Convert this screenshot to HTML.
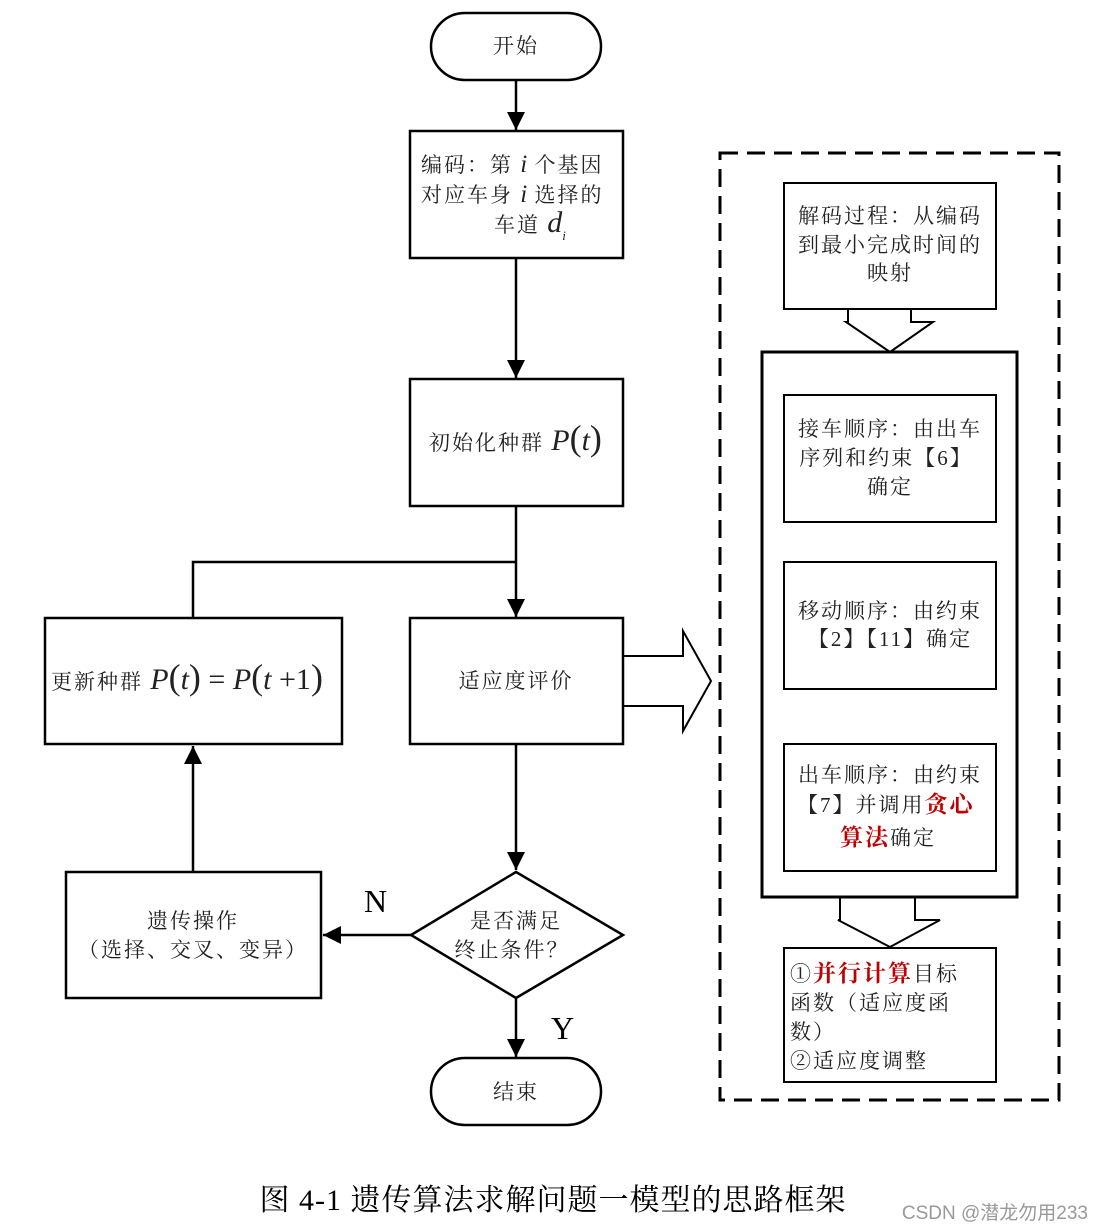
<!DOCTYPE html>
<html><head><meta charset="utf-8"><style>
html,body{margin:0;padding:0;background:#fff;width:1104px;height:1231px;overflow:hidden}
svg{display:block}
text{font-family:"Liberation Serif","Noto Serif CJK SC",serif;font-size:21px;fill:#222;letter-spacing:2px}
.m{font-family:"Liberation Serif",serif;font-style:italic;letter-spacing:0}
.r{fill:#c00000;font-weight:bold;font-size:23px}
</style></head><body>
<svg width="1104" height="1231" viewBox="0 0 1104 1231" xmlns="http://www.w3.org/2000/svg">
<defs>
<marker id="b" viewBox="0 0 10 10" markerWidth="20" markerHeight="18" refX="10" refY="5" orient="auto" markerUnits="userSpaceOnUse"><path d="M0,0 L10,5 L0,10 z" fill="#000"/></marker></defs>
<g fill="none" stroke="#000" stroke-width="2.5">
<rect x="431" y="13" width="170" height="67" rx="34"/>
<rect x="410" y="131" width="213" height="127"/>
<rect x="410" y="379" width="213" height="127"/>
<rect x="45" y="618" width="297" height="126"/>
<rect x="410" y="618" width="213" height="126"/>
<path d="M516,872 L623,935 L516,998 L411,935 Z"/>
<rect x="66" y="872" width="255" height="126"/>
<rect x="431" y="1058" width="170" height="67" rx="34"/>
<line x1="516" y1="80" x2="516" y2="130" marker-end="url(#b)"/>
<line x1="516" y1="258" x2="516" y2="378" marker-end="url(#b)"/>
<line x1="516" y1="506" x2="516" y2="617" marker-end="url(#b)"/>
<polyline points="193,618 193,562 516,562"/>
<line x1="516" y1="744" x2="516" y2="870" marker-end="url(#b)"/>
<line x1="411" y1="935" x2="323" y2="935" marker-end="url(#b)"/>
<line x1="193" y1="872" x2="193" y2="746" marker-end="url(#b)"/>
<line x1="516" y1="998" x2="516" y2="1057" marker-end="url(#b)"/>
<path d="M623,656 L683,656 L683,631 L711,681 L683,731 L683,706 L623,706" stroke-width="2"/>
<rect x="720" y="153" width="339" height="947" stroke-dasharray="18,9" stroke-width="3"/>
<rect x="784" y="183" width="212" height="126" stroke-width="2"/>
<path d="M848,309 L848,322 L846,322 L890,352 L933,322 L911,322 L911,309" stroke-width="2"/>
<rect x="762" y="352" width="255" height="545" stroke-width="3"/>
<rect x="784" y="395" width="212" height="127" stroke-width="2"/>
<rect x="784" y="562" width="212" height="127" stroke-width="2"/>
<rect x="784" y="744" width="212" height="127" stroke-width="2"/>
<path d="M840,897 L840,920 L838,920 L890,947 L940,920 L915,920 L915,897" stroke-width="2"/>
<rect x="784" y="948" width="212" height="134" stroke-width="2"/>
</g>
<text x="516" y="53" text-anchor="middle">开始</text>
<text x="421" y="172">编码：第 <tspan class="m" font-size="25">i</tspan> 个基因</text>
<text x="421" y="202">对应车身 <tspan class="m" font-size="25">i</tspan> 选择的</text>
<text x="494" y="232">车道 <tspan class="m" font-size="30">d</tspan><tspan class="m" font-size="13" dy="8">i</tspan></text>
<text x="429" y="450">初始化种群 <tspan class="m" font-size="30">P</tspan><tspan font-size="36" style="letter-spacing:0">(</tspan><tspan class="m" font-size="30">t</tspan><tspan font-size="36" style="letter-spacing:0">)</tspan></text>
<text x="51" y="689">更新种群 <tspan class="m" font-size="30">P</tspan><tspan font-size="36" style="letter-spacing:0">(</tspan><tspan class="m" font-size="30">t</tspan><tspan font-size="36" style="letter-spacing:0">)</tspan><tspan font-size="30" style="letter-spacing:0"> = </tspan><tspan class="m" font-size="30">P</tspan><tspan font-size="36" style="letter-spacing:0">(</tspan><tspan class="m" font-size="30">t</tspan><tspan font-size="30" style="letter-spacing:0"> +1</tspan><tspan font-size="36" style="letter-spacing:0">)</tspan></text>
<text x="516" y="688" text-anchor="middle">适应度评价</text>
<text x="516" y="928" text-anchor="middle">是否满足</text>
<text x="512" y="957" text-anchor="middle">终止条件？</text>
<text x="193" y="928" text-anchor="middle">遗传操作</text>
<text x="193" y="957" text-anchor="middle">（选择、交叉、变异）</text>
<text x="364" y="912" style="font-size:32px;fill:#000">N</text>
<text x="551" y="1039" style="font-size:32px;fill:#000">Y</text>
<text x="516" y="1099" text-anchor="middle">结束</text>
<text x="890" y="223" text-anchor="middle">解码过程：从编码</text>
<text x="890" y="252" text-anchor="middle">到最小完成时间的</text>
<text x="890" y="280" text-anchor="middle">映射</text>
<text x="890" y="436" text-anchor="middle">接车顺序：由出车</text>
<text x="886" y="465" text-anchor="middle">序列和约束【6】</text>
<text x="890" y="494" text-anchor="middle">确定</text>
<text x="890" y="618" text-anchor="middle">移动顺序：由约束</text>
<text x="890" y="646" text-anchor="middle">【2】【11】确定</text>
<text x="890" y="782" text-anchor="middle">出车顺序：由约束</text>
<text x="797" y="812">【7】并调用<tspan class="r">贪心</tspan></text>
<text x="840" y="845"><tspan class="r">算法</tspan>确定</text>
<text x="790" y="981">①<tspan class="r">并行计算</tspan>目标</text>
<text x="790" y="1010">函数（适应度函</text>
<text x="790" y="1039">数）</text>
<text x="790" y="1068">②适应度调整</text>
<text x="553" y="1210" text-anchor="middle" style="font-size:30px;fill:#000;letter-spacing:1px">图 4-1 遗传算法求解问题一模型的思路框架</text>
<text x="1088" y="1219" text-anchor="end" style="font-size:19px;fill:#999;letter-spacing:0;font-family:'Liberation Sans','Noto Sans CJK SC',sans-serif">CSDN @潜龙勿用233</text>
</svg>
</body></html>
